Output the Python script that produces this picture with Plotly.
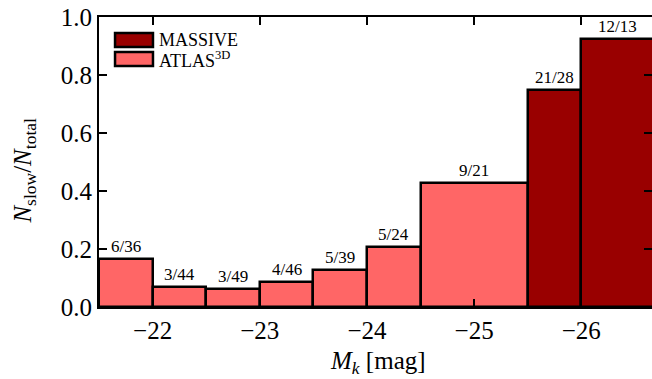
import plotly.graph_objects as go

# ---- data ----
atlas_lo = [-21.5, -22.0, -22.5, -23.0, -23.5, -24.0, -24.5]
atlas_hi = [-22.0, -22.5, -23.0, -23.5, -24.0, -24.5, -25.5]
atlas_slow = [6, 3, 3, 4, 5, 5, 9]
atlas_total = [36, 44, 49, 46, 39, 24, 21]

massive_lo = [-25.5, -26.0]
massive_hi = [-26.0, -26.68]
massive_slow = [21, 12]
massive_total = [28, 13]

x_ticks = [-22, -23, -24, -25, -26]
y_ticks = [0.0, 0.2, 0.4, 0.6, 0.8, 1.0]

MASSIVE_COLOR = "#990000"
ATLAS_COLOR = "#ff6666"
FONT = "Liberation Serif"

# combine both samples into one bar trace (colour per sample)
lo = atlas_lo + massive_lo
hi = atlas_hi + massive_hi
slow = atlas_slow + massive_slow
total = atlas_total + massive_total
colors = [ATLAS_COLOR] * len(atlas_lo) + [MASSIVE_COLOR] * len(massive_lo)

centers = [(a + b) / 2 for a, b in zip(lo, hi)]
widths = [abs(b - a) for a, b in zip(lo, hi)]
vals = [s / t for s, t in zip(slow, total)]

fig = go.Figure(go.Bar(
    x=centers, y=vals, width=widths,
    marker=dict(color=colors, line=dict(color="black", width=2.5)),
    showlegend=False,
))

annotations = []
for c, v, s, t in zip(centers, vals, slow, total):
    annotations.append(dict(x=c, y=v, xref="x", yref="y", text=f"{s}/{t}",
                            showarrow=False, yanchor="bottom", yshift=1,
                            font=dict(family=FONT, size=17, color="black")))

axis_common = dict(
    showline=True, linecolor="black", linewidth=2, mirror="ticks",
    ticks="inside", ticklen=8, tickwidth=1.5, tickcolor="black",
    showgrid=False, zeroline=False, automargin=False,
    tickfont=dict(family=FONT, size=25, color="black"),
)
fig.update_xaxes(range=[-21.5, -26.66], tickvals=x_ticks, **axis_common)
fig.update_yaxes(range=[0, 1.0], tickvals=y_ticks, tickformat=".1f", **axis_common)

# axis titles as annotations
annotations.append(dict(xref="paper", yref="paper", x=0.505, y=-0.19,
                        xanchor="center", yanchor="middle", showarrow=False,
                        text="<i>M</i><sub><i>k</i></sub> [mag]",
                        font=dict(family=FONT, size=25, color="black")))
annotations.append(dict(xref="paper", yref="paper", x=-0.134, y=0.47,
                        xanchor="center", yanchor="middle", showarrow=False, textangle=-90,
                        text="<i>N</i><sub>slow</sub>/<i>N</i><sub>total</sub>",
                        font=dict(family=FONT, size=25, color="black")))

# manual legend (wide rectangles like the reference)
legend_items = [("MASSIVE", MASSIVE_COLOR, 0.8966, 0.9448, 0.921),
                ("ATLAS<sup>3D</sup>", ATLAS_COLOR, 0.831, 0.879, 0.852)]
shapes = []
for label, color, y0, y1, yt in legend_items:
    shapes.append(dict(type="rect", xref="paper", yref="paper",
                       x0=0.029, x1=0.0976, y0=y0, y1=y1,
                       fillcolor=color, line=dict(color="black", width=2.5)))
    annotations.append(dict(xref="paper", yref="paper", x=0.104, y=yt,
                            xanchor="left", yanchor="middle", showarrow=False,
                            text=label, font=dict(family=FONT, size=18, color="black")))

fig.update_layout(
    width=652, height=379, autosize=False,
    margin=dict(l=99, r=0, t=17, b=72, autoexpand=False),
    paper_bgcolor="white", plot_bgcolor="white",
    bargap=0,
    shapes=shapes, annotations=annotations,
)

fig.write_html("out.html")
